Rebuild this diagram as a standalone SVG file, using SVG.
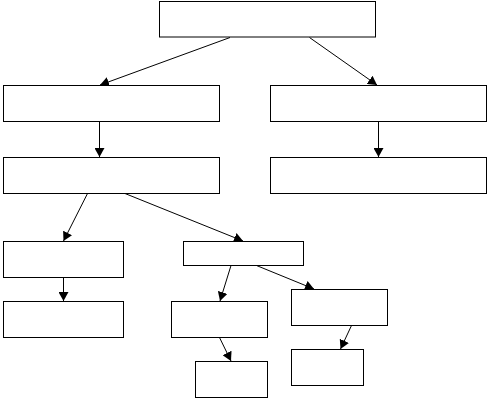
<svg xmlns="http://www.w3.org/2000/svg" width="494" height="401" viewBox="0 0 494 401">
<style>
.box{fill:#fff;stroke:#000;stroke-width:1}
.c{stroke:#000;stroke-width:1;fill:none;marker-end:url(#ah)}
</style>
<defs>
<marker id="ah" markerUnits="userSpaceOnUse" markerWidth="10" markerHeight="10" refX="9" refY="5" orient="auto">
<path d="M0,0 L9,5 L0,10 z" fill="#000"/>
</marker>
</defs>
<rect width="494" height="401" fill="#fff"/>
<g id="connectors">
<line class="c" x1="230" y1="37.5" x2="100" y2="85"/>
<line class="c" x1="309.5" y1="37.5" x2="377" y2="85"/>
<line class="c" x1="99.5" y1="121.5" x2="99.5" y2="157"/>
<line class="c" x1="378.5" y1="121.5" x2="378.5" y2="157"/>
<line class="c" x1="87.5" y1="193.5" x2="63.5" y2="241"/>
<line class="c" x1="125" y1="193.5" x2="243" y2="241"/>
<line class="c" x1="63.5" y1="277.5" x2="63.5" y2="301"/>
<line class="c" x1="231" y1="265.5" x2="220" y2="301"/>
<line class="c" x1="256.5" y1="265.5" x2="314" y2="289"/>
<line class="c" x1="219.5" y1="337.5" x2="231" y2="361"/>
<line class="c" x1="351.5" y1="325.5" x2="340.5" y2="349"/>
</g>
<g id="n0"><rect class="box" x="159.5" y="1.5" width="216" height="35.5"/></g>
<g id="n1"><rect class="box" x="3.5" y="85.5" width="216" height="36"/></g>
<g id="n2"><rect class="box" x="270.5" y="85.5" width="216" height="36"/></g>
<g id="n3"><rect class="box" x="3.5" y="157.5" width="216" height="36"/></g>
<g id="n4"><rect class="box" x="270.5" y="157.5" width="216" height="36"/></g>
<g id="n5"><rect class="box" x="3.5" y="241.5" width="120" height="36"/></g>
<g id="n6"><rect class="box" x="183.5" y="241.5" width="120" height="24"/></g>
<g id="n7"><rect class="box" x="3.5" y="301.5" width="120" height="36"/></g>
<g id="n8"><rect class="box" x="171.5" y="301.5" width="96" height="36"/></g>
<g id="n9"><rect class="box" x="291.5" y="289.5" width="96" height="36"/></g>
<g id="n10"><rect class="box" x="195.5" y="361.5" width="72" height="36"/></g>
<g id="n11"><rect class="box" x="291.5" y="349.5" width="72" height="36"/></g>
</svg>
